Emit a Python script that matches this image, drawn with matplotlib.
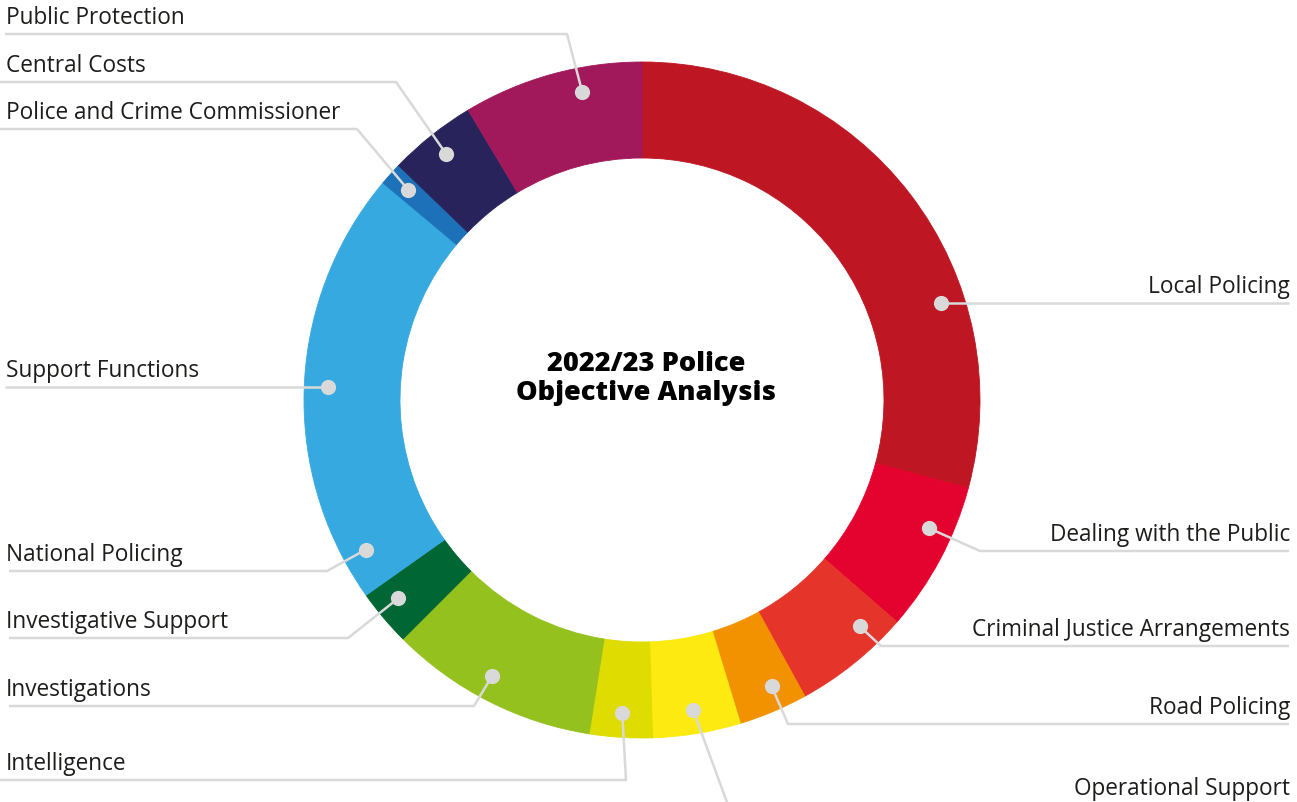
import matplotlib.pyplot as plt
import numpy as np

categories = ['Local Policing', 'Dealing with the Public', 'Criminal Justice Arrangements',
              'Road Policing', 'Operational Support', 'Intelligence', 'Investigations',
              'Investigative Support', 'National Policing', 'Support Functions',
              'Police and Crime Commissioner', 'Central Costs', 'Public Protection']
shares = [29.2, 7.2, 5.6, 3.3, 4.2, 3.0, 10.0, 2.7, 3.8, 17.1, 1.1, 4.2, 8.6]
colours = ['#BE1622', '#E4032E', '#E5352B', '#F39200', '#FCEA10', '#DEDC00', '#95C11F',
           '#006633', '#36A9E1', '#36A9E1', '#1D71B8', '#29235C', '#A2195B']

# label layout in pixels: side, y of the underline, x where the leader bends
# (None = straight line to the dot), start/end of underline, nudge of dot angle
label_side = ['R', 'R', 'R', 'R', 'R', 'L', 'L', 'L', 'L', 'L', 'L', 'L', 'L']
line_y = [304, 552, 647, 725, 806, 781, 707, 639, 572, 388, 130, 83, 35]
bend_x = [None, 980, 881, 788, 728, 626, 474, 348, 327, None, 357, 396, 567]
line_from = [1289, 1289, 1289, 1289, 1289, 0, 9, 9, 9, 5, 0, 0, 5]
nudge = [0, -4, -5, -1.5, 0, 0, 1.5, 1, 0, 0, 0, 0, 4.5]

W, H = 1297, 803
cx, cy = 642, 401
r_out, r_in = 338, 242
r_dot = 314
grey = '#D9D9D9'


def Y(y):
    return H - y


fig = plt.figure(figsize=(W / 100, H / 100), dpi=100)
ax = fig.add_axes([0, 0, 1, 1])

wedges, _ = ax.pie(shares, colors=colours, radius=r_out, center=(cx, Y(cy)),
                   startangle=90, counterclock=False,
                   wedgeprops=dict(width=r_out - r_in, linewidth=0.6))
for w in wedges:
    w.set_edgecolor(w.get_facecolor())
ax.set_xlim(0, W)
ax.set_ylim(0, H)
ax.set_aspect('equal')
ax.axis('off')

for i, w in enumerate(wedges):
    if bend_x[i] is None:
        # dot sits on the label's underline
        dy = cy - line_y[i]
        dx = np.sqrt(r_dot ** 2 - dy ** 2)
        px = cx + dx if label_side[i] == 'R' else cx - dx
        py = Y(line_y[i])
        xs, ys = [px, line_from[i]], [py, py]
    else:
        ang = np.deg2rad((w.theta1 + w.theta2) / 2 - nudge[i])
        px = cx + r_dot * np.cos(ang)
        py = Y(cy) + r_dot * np.sin(ang)
        xs = [px, bend_x[i], line_from[i]]
        ys = [py, Y(line_y[i]), Y(line_y[i])]
    ax.plot(xs, ys, color=grey, lw=1.8, solid_capstyle='butt', zorder=3)
    ax.scatter([px], [py], s=120, color=grey, zorder=4, linewidths=0)

    if label_side[i] == 'R':
        ax.text(1290, Y(line_y[i] - 11), categories[i], ha='right', va='baseline',
                fontsize=16.3, family='Open Sans', color='#1d1d1b')
    else:
        ax.text(6, Y(line_y[i] - 11), categories[i], ha='left', va='baseline',
                fontsize=16.3, family='Open Sans', color='#1d1d1b')

ax.text(cx + 4, Y(379), '2022/23 Police\nObjective Analysis', ha='center', va='center',
        fontsize=19.6, fontweight='heavy', family='Open Sans', linespacing=1.15, color='black')

fig.savefig('out.png', dpi=100)
